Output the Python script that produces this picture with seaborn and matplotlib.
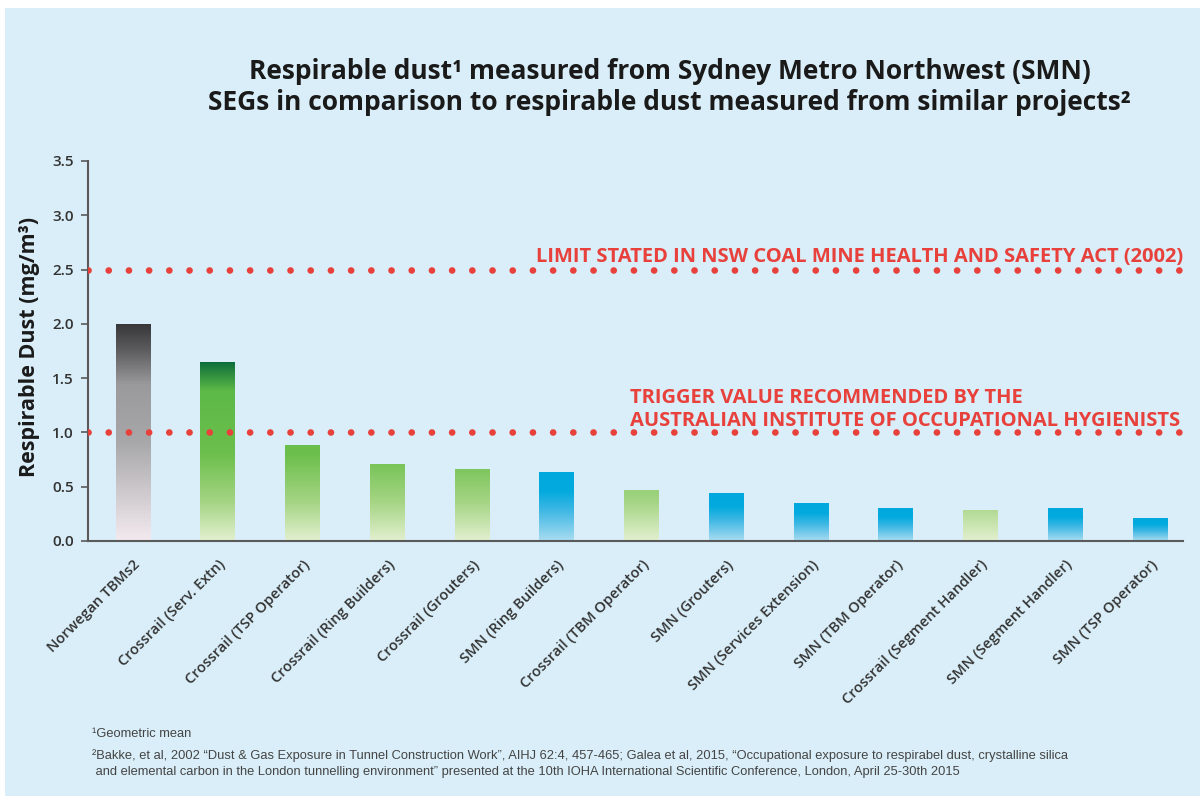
import numpy as np
import pandas as pd
import matplotlib
matplotlib.use("Agg")
import matplotlib.pyplot as plt
import seaborn as sns
from matplotlib.colors import LinearSegmentedColormap, to_rgb
from matplotlib.patches import Rectangle

# ---------------- data ----------------
categories = [
    "Norwegan TBMs2", "Crossrail (Serv. Extn)", "Crossrail (TSP Operator)",
    "Crossrail (Ring Builders)", "Crossrail (Grouters)", "SMN (Ring Builders)",
    "Crossrail (TBM Operator)", "SMN (Grouters)", "SMN (Services Extension)",
    "SMN (TBM Operator)", "Crossrail (Segment Handler)", "SMN (Segment Handler)",
    "SMN (TSP Operator)",
]
values = [2.0, 1.65, 0.88, 0.71, 0.66, 0.64, 0.47, 0.44, 0.35, 0.30, 0.29, 0.30, 0.21]
groups = ["Norwegian", "Crossrail", "Crossrail", "Crossrail", "Crossrail", "SMN",
          "Crossrail", "SMN", "SMN", "SMN", "Crossrail", "SMN", "SMN"]
limit_value = 2.5
trigger_value = 1.0
yticks = [0.0, 0.5, 1.0, 1.5, 2.0, 2.5, 3.0, 3.5]

df = pd.DataFrame({"category": categories, "value": values, "group": groups})

# ---------------- style ----------------
BG = "#d9eef8"
RED = "#e8403b"
sns.set_theme(style="white")
plt.rcParams["font.family"] = ["Open Sans", "DejaVu Sans"]

fig = plt.figure(figsize=(12, 7.96), dpi=100)
fig.patch.set_facecolor("white")
fig.patches.append(Rectangle((5 / 1200, 0), 1 - 5 / 1200, 1 - 8 / 796,
                             transform=fig.transFigure, facecolor=BG,
                             edgecolor="none", zorder=-10))

ax = fig.add_axes([88 / 1200, 1 - 541 / 796, (1183 - 88) / 1200, (541 - 161) / 796])
ax.set_facecolor("none")

sns.barplot(data=df, x="category", y="value", ax=ax, width=0.41,
            color="#6abd4b", saturation=1, errorbar=None)

# gradient fills
gray_cmap = LinearSegmentedColormap.from_list(
    "gray", [(0, "#f3eaef"), (0.45, "#a8a8aa"), (0.72, "#9a9a9c"),
             (0.88, "#5c5b5d"), (1.0, "#373638")])
blue_cmap = LinearSegmentedColormap.from_list(
    "blue", [(0, "#a9dcf1"), (0.45, "#3cb7e4"), (0.72, "#02aade"), (1.0, "#00a8de")])
green_stops = [(0.0, "#e3f0d0"), (0.35, "#a6d585"), (0.8, "#6cbf4c"),
               (1.38, "#5cb947"), (1.65, "#0b6b3a")]
gy = np.array([s[0] for s in green_stops])
gc = np.array([to_rgb(s[1]) for s in green_stops])

for patch, grp in zip(ax.patches, groups):
    x0 = patch.get_x()
    w = patch.get_width()
    h = patch.get_height()
    ys = np.linspace(0, h, 200)
    if grp == "Norwegian":
        cols = gray_cmap(ys / h)[:, :3]
    elif grp == "SMN":
        cols = blue_cmap(ys / h)[:, :3]
    else:
        cols = np.stack([np.interp(ys, gy, gc[:, k]) for k in range(3)], axis=1)
    img = cols[::-1][:, None, :]
    im = ax.imshow(img, extent=(x0, x0 + w, 0, h), aspect="auto",
                   origin="upper", zorder=2, interpolation="bilinear")
    im.set_clip_path(patch)
    patch.set_facecolor("none")
    patch.set_edgecolor("none")

# reference lines (dotted red)
for yv in (limit_value, trigger_value):
    ax.axhline(yv, color=RED, lw=4.8, linestyle=(0, (0.01, 3.02)),
               dash_capstyle="round", zorder=3)

ax.set_xlim(-0.531, 12.39)
ax.set_ylim(0, 3.5)
ax.set_yticks(yticks)
ax.set_yticklabels([f"{t:.1f}" for t in yticks], fontsize=11,
                   fontweight="semibold", color="#333333")
ax.set_xticks(range(len(categories)))
ax.set_xticklabels(categories, rotation=45, ha="right", rotation_mode="anchor",
                   fontsize=10.5, fontweight="semibold", color="#333333")
ax.tick_params(axis="y", which="both", left=True, length=5, width=1.2,
               color="#5a5a5a", pad=5)
ax.tick_params(axis="x", bottom=False, pad=6)
ax.set_xlabel("")
ax.set_ylabel("Respirable Dust (mg/m³)", fontsize=15.5, fontweight="bold",
              color="#1a1a1a")
ax.yaxis.set_label_coords(-0.044, (541 - 347) / 380)
for side in ("top", "right"):
    ax.spines[side].set_visible(False)
for side in ("left", "bottom"):
    ax.spines[side].set_color("#5a5a5a")
    ax.spines[side].set_linewidth(1.5)

# annotations
ax.text(1.0, limit_value + 0.025, "LIMIT STATED IN NSW COAL MINE HEALTH AND SAFETY ACT (2002)",
        transform=ax.get_yaxis_transform(), ha="right", va="bottom",
        fontsize=14.5, fontweight="bold", color=RED)
ax.text(0.495, trigger_value + 0.015,
        "TRIGGER VALUE RECOMMENDED BY THE\nAUSTRALIAN INSTITUTE OF OCCUPATIONAL HYGIENISTS",
        transform=ax.get_yaxis_transform(), ha="left", va="bottom",
        fontsize=14.5, fontweight="bold", color=RED, linespacing=1.22)

# title
fig.text(0.558, 1 - 87 / 796,
         "Respirable dust¹ measured from Sydney Metro Northwest (SMN)\n"
         "SEGs in comparison to respirable dust measured from similar projects²",
         ha="center", va="center", fontsize=19, fontweight="bold",
         color="#1a1a1a", linespacing=1.17)

# footnotes
fn_family = ["Liberation Sans", "DejaVu Sans"]
fn_x = 92 / 1200
fig.text(fn_x, 1 - 734 / 796, "¹Geometric mean", fontsize=9.3,
         color="#444444", va="center", family=fn_family)
fig.text(fn_x, 1 - 756 / 796,
         "²Bakke, et al, 2002 “Dust & Gas Exposure in Tunnel Construction Work”, AIHJ 62:4, 457-465; "
         "Galea et al, 2015, “Occupational exposure to respirabel dust, crystalline silica",
         fontsize=9.3, color="#444444", va="center", family=fn_family)
fig.text(fn_x, 1 - 772 / 796,
         " and elemental carbon in the London tunnelling environment” presented at the 10th IOHA "
         "International Scientific Conference, London, April 25-30th 2015",
         fontsize=9.3, color="#444444", va="center", family=fn_family)

fig.savefig("out.png", dpi=100, facecolor=fig.get_facecolor())
